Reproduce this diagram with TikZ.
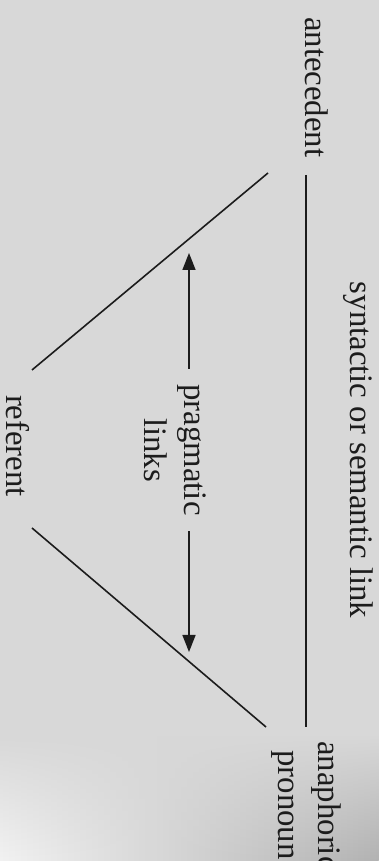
\documentclass[tikz,border=0pt]{standalone}
\usepackage{fontspec}
\setmainfont{Liberation Serif}
\usetikzlibrary{arrows.meta,fadings}
\definecolor{bgc}{RGB}{216,216,216}
\definecolor{ink}{RGB}{28,28,28}
\definecolor{brite}{RGB}{242,242,242}
\definecolor{dim}{RGB}{178,178,178}
\tikzfading[name=fadeup, top color=transparent!100, bottom color=transparent!0]
\begin{document}
\begin{tikzpicture}[x=1pt,y=1pt,
  lbl/.style={rotate=-90, inner sep=0pt, text=ink,
    font=\fontsize{32.8}{39}\selectfont},
  ln/.style={draw=ink, line width=1.6pt},
  arr/.style={ln, -{Triangle[width=13pt,length=17pt]}}]
\useasboundingbox (0,0) rectangle (379,861);
\fill[bgc] (0,0) rectangle (379,861);
\shade[left color=brite, right color=dim, path fading=fadeup] (0,0) rectangle (379,125);
% labels
\node[lbl, anchor=base west, inner xsep=0pt] (ant) at (305,844) {antecedent};
\node[lbl, anchor=base] (syn) at (350,411) {syntactic or semantic link};
\node[lbl, anchor=base] (ana) at (318,55) {anaphoric};
\node[lbl, anchor=base] (pro) at (278,56) {pronoun};
\node[lbl, anchor=base] (ref) at (6,415) {referent};
\node[lbl, anchor=base, inner xsep=15.5pt] (prag) at (184,411) {pragmatic};
\node[lbl, anchor=base] (lnk) at (144,411) {links};
% connector ends
\coordinate (s1) at (306,686);
\coordinate (s2) at (306,134);
\coordinate (a1) at (268,688);
\coordinate (r1) at (32,491);
\coordinate (r2) at (32,333);
\coordinate (p1) at (266,134);
\coordinate (tipU) at (189,608);
\coordinate (tipD) at (189,209);
% lines
\draw[ln] (s1) -- (s2);
\draw[ln] (a1) -- (r1);
\draw[ln] (r2) -- (p1);
\draw[arr] (prag.west -| tipU) -- (tipU);
\draw[arr] (prag.east -| tipD) -- (tipD);
\end{tikzpicture}
\end{document}
